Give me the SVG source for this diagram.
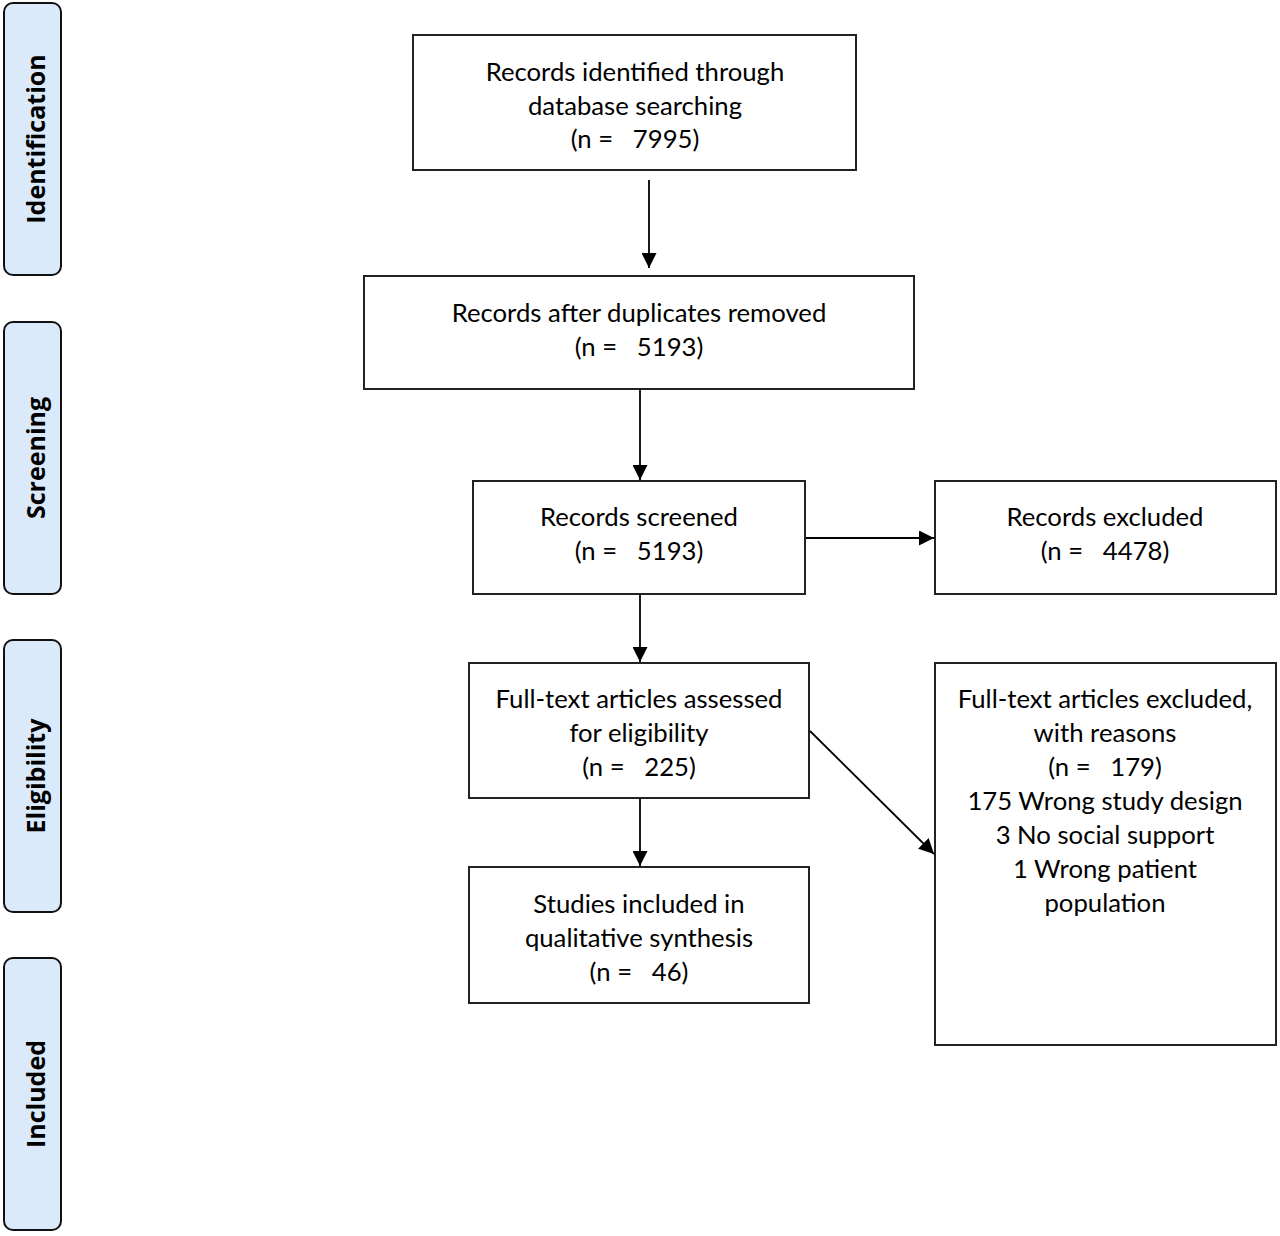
<svg xmlns="http://www.w3.org/2000/svg" width="1280" height="1236" viewBox="0 0 1280 1236">
<defs>
<style>
.side{fill:#dbeafb;stroke:#111;stroke-width:2}
.stxt{font-family:"Open Sans","Liberation Sans",sans-serif;font-weight:bold;font-size:25px;fill:#000;text-anchor:middle}
.box{fill:#fff;stroke:#222;stroke-width:2}
.t{font-family:Lato,"Liberation Sans",sans-serif;font-size:25.7px;fill:#000;text-anchor:middle}
.c{stroke:#000;stroke-width:1.8;fill:none}
</style>
<marker id="ah" viewBox="0 0 10 10" refX="10" refY="5" markerWidth="15" markerHeight="15" markerUnits="userSpaceOnUse" orient="auto"><path d="M0,0 L10,5 L0,10 z" fill="#000"/></marker>
</defs>
<rect width="1280" height="1236" fill="#fff"/>
<g id="side-identification"><rect class="side" x="4" y="3" width="57" height="272" rx="9"/><text class="stxt" transform="translate(45,139) rotate(-90)">Identification</text></g>
<g id="side-screening"><rect class="side" x="4" y="322" width="57" height="272" rx="9"/><text class="stxt" transform="translate(45,458) rotate(-90)">Screening</text></g>
<g id="side-eligibility"><rect class="side" x="4" y="640" width="57" height="272" rx="9"/><text class="stxt" transform="translate(45,776) rotate(-90)">Eligibility</text></g>
<g id="side-included"><rect class="side" x="4" y="958" width="57" height="272" rx="9"/><text class="stxt" transform="translate(45,1094) rotate(-90)">Included</text></g>

<g id="n1"><rect class="box" x="413" y="35" width="443" height="135"/>
<text class="t" x="635" y="81">Records identified through</text>
<text class="t" x="635" y="115">database searching</text>
<text class="t" x="635" y="148" xml:space="preserve">(n =   7995)</text></g>
<g id="n2"><rect class="box" x="364" y="276" width="550" height="113"/>
<text class="t" x="639" y="322">Records after duplicates removed</text>
<text class="t" x="639" y="356" xml:space="preserve">(n =   5193)</text></g>
<g id="n3"><rect class="box" x="473" y="481" width="332" height="113"/>
<text class="t" x="639" y="526">Records screened</text>
<text class="t" x="639" y="560" xml:space="preserve">(n =   5193)</text></g>
<g id="n4"><rect class="box" x="935" y="481" width="341" height="113"/>
<text class="t" x="1105" y="526">Records excluded</text>
<text class="t" x="1105" y="560" xml:space="preserve">(n =   4478)</text></g>
<g id="n5"><rect class="box" x="469" y="663" width="340" height="135"/>
<text class="t" x="639" y="708">Full-text articles assessed</text>
<text class="t" x="639" y="742">for eligibility</text>
<text class="t" x="639" y="776" xml:space="preserve">(n =   225)</text></g>
<g id="n6"><rect class="box" x="935" y="663" width="341" height="382"/>
<text class="t" x="1105" y="708">Full-text articles excluded,</text>
<text class="t" x="1105" y="742">with reasons</text>
<text class="t" x="1105" y="776" xml:space="preserve">(n =   179)</text>
<text class="t" x="1105" y="810">175 Wrong study design</text>
<text class="t" x="1105" y="844">3 No social support</text>
<text class="t" x="1105" y="878">1 Wrong patient</text>
<text class="t" x="1105" y="912">population</text></g>
<g id="n7"><rect class="box" x="469" y="867" width="340" height="136"/>
<text class="t" x="639" y="913">Studies included in</text>
<text class="t" x="639" y="947">qualitative synthesis</text>
<text class="t" x="639" y="981" xml:space="preserve">(n =   46)</text></g>

<g id="connectors">
<line class="c" x1="649" y1="180" x2="649" y2="268" marker-end="url(#ah)"/>
<line class="c" x1="640" y1="389" x2="640" y2="480" marker-end="url(#ah)"/>
<line class="c" x1="806" y1="538" x2="934" y2="538" marker-end="url(#ah)"/>
<line class="c" x1="640" y1="594" x2="640" y2="662" marker-end="url(#ah)"/>
<line class="c" x1="640" y1="798" x2="640" y2="866" marker-end="url(#ah)"/>
<line class="c" x1="810" y1="731" x2="934" y2="854" marker-end="url(#ah)"/>
</g>
</svg>
